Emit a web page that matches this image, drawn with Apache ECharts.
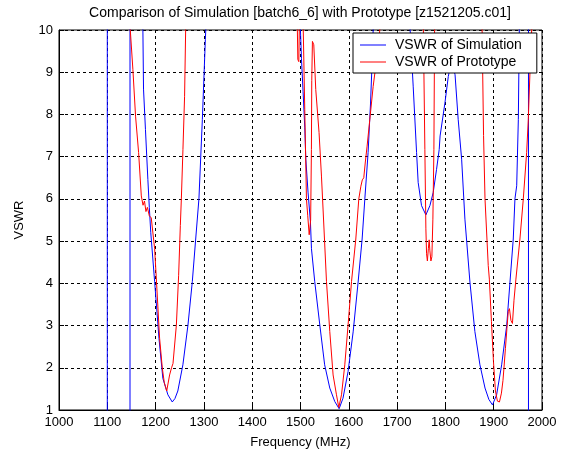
<!DOCTYPE html>
<html>
<head>
<meta charset="utf-8">
<script src="https://cdn.jsdelivr.net/npm/echarts@6/dist/echarts.min.js"></script>
<style>
  html, body { margin: 0; padding: 0; background: #fff; }
  #chart { width: 564px; height: 454px; }
</style>
</head>
<body>
<div id="chart"></div>
<script>
// simulation (blue), null = break in the line, values > 10 run off the top
let simFreq = [1100, 1100, 1147, 1147, 1160,
  1172, 1173.7, 1175, 1179, 1184, 1187, 1190, 1198, 1207, 1215, 1225.5, 1234.5, 1240, 1246, 1256.5, 1267, 1276, 1283, 1289.7, 1296.8, 1303, 1305, 1310,
  1497, 1499.9, 1502, 1505.3, 1508.8, 1511, 1515.6, 1520.6, 1522.7, 1529.5, 1540, 1550, 1560.6, 1571, 1580, 1588, 1598.5, 1609, 1619.3, 1627.6, 1633.2, 1640, 1645, 1649, 1650.4, 1652,
  1724, 1727, 1733.3, 1740.3, 1743.6, 1750.6, 1759.6, 1767.9, 1774.7, 1781.7, 1787.2, 1789, 1799, 1806, 1813, 1820, 1826.5, 1833.6, 1840.4, 1850.8, 1861, 1871.5, 1882, 1890, 1897.5, 1906, 1916.5, 1927, 1933.7, 1940.5, 1944, 1947.6, 1951, 1953, 1955,
  1972, 1972]
let simVswr = [0, 11, 11, 0, null,
  11, 10, 8.6, 7.64, 6.46, 5.8, 5.2, 4.04, 2.7, 1.75, 1.36, 1.19, 1.27, 1.45, 2.07, 3.01, 4.04, 5.05, 6.0, 7.88, 9.77, 10.3, 11,
  11, 10, 9.33, 8.55, 7.7, 6.94, 6.16, 5.45, 4.82, 4.04, 3.01, 2.07, 1.52, 1.2, 1.03, 1.28, 1.91, 2.85, 4.03, 5.05, 6.0, 7.1, 8.27, 9.45, 10, 11,
  11, 10, 8.67, 7.1, 6.39, 5.84, 5.62, 5.84, 6.15, 6.7, 7.17, 7.49, 8.27, 8.9, 9.3, 8.94, 7.88, 6.94, 5.52, 4.03, 2.86, 2.07, 1.52, 1.25, 1.12, 1.36, 2.07, 3.01, 4.03, 5.05, 6.0, 6.31, 7.88, 10, 11,
  11, 0]

// prototype (red)
let protoFreq = [1000, 1146, 1147.6, 1153, 1158.5, 1164.8, 1170.4, 1174, 1177, 1180, 1183, 1187, 1191, 1198, 1202.7, 1208.3, 1213.9, 1218, 1223, 1229, 1233, 1236, 1243, 1247.7, 1251.2, 1253.3, 1256.6, 1260, 1262.2, 1264,
  1492, 1493.5, 1494.5, 1496.5, 1497.5, 1499,
  1504, 1505.7, 1508.8, 1512.3, 1515, 1518, 1521, 1522.6, 1523.3, 1524.7, 1527.5, 1531.6, 1538.4, 1543.4, 1546.7, 1553.8, 1560.6, 1567.5, 1574.5, 1579.3, 1584.9, 1591.7, 1598.5, 1605.6, 1614.5, 1620.7, 1625, 1628, 1631, 1634, 1637.9, 1643.5, 1650.4, 1657.4, 1664.2, 1666,
  1753, 1754.4, 1757.5, 1759.6, 1761, 1762.7, 1764.7, 1766.4, 1767.9, 1770, 1772, 1774.1, 1776.2, 1777.6, 1779,
  1873, 1876, 1879, 1882, 1888.7, 1891, 1895.3, 1899.5, 1903.6, 1907.7, 1911.9, 1916, 1919.2, 1921.2, 1924.3, 1927.4, 1930.1, 1932.6, 1935.7, 1938.8, 1942, 1946, 1954.3, 1961.3, 1968.2, 1971.6, 1976.5, 1978.6, 1980, 2000]
let protoVswr = [11, 11, 10, 9.06, 7.96, 7.1, 6.07, 5.85, 5.95, 5.7, 5.8, 5.6, 5.55, 4.82, 3.87, 2.7, 1.99, 1.65, 1.45, 1.83, 2.0, 2.1, 3.01, 4.19, 5.37, 6.0, 7.17, 8.43, 10, 11,
  11, 10, 9.3, 9.25, 10, 11,
  11, 10, 8.12, 6.0, 5.6, 5.15, 5.5, 7.17, 8.8, 9.73, 9.65, 8.59, 7.57, 6.54, 5.76, 4.04, 2.86, 1.83, 1.36, 1.06, 1.36, 2.07, 3.01, 4.04, 5.05, 6.0, 6.3, 6.45, 6.5, 6.85, 7.25, 7.88, 8.66, 9.29, 10, 11,
  11, 10, 7.17, 5.29, 4.7, 4.53, 4.82, 5.03, 4.77, 4.53, 4.63, 5.52, 7.17, 10, 11,
  11, 10, 7.5, 6.0, 4.42, 4.1, 3.1, 2.15, 1.45, 1.21, 1.19, 1.4, 1.7, 1.99, 2.46, 2.93, 3.33, 3.4, 3.12, 3.05, 3.6, 4.1, 5.05, 6.0, 7.1, 7.88, 9.45, 10, 11, 11]

let font = 'Liberation Sans, Arial, sans-serif'

function pairs(xs, ys) {
  return xs.map((x, i) => [x, ys[i]])
}

let myChart = echarts.init(document.getElementById('chart'))
myChart.setOption({
  animation: false,
  backgroundColor: '#fff',
  title: {
    text: 'Comparison of Simulation [batch6_6] with Prototype [z1521205.c01]',
    left: 300,
    top: 6,
    padding: 0,
    textAlign: 'center',
    textStyle: { fontSize: 14, fontWeight: 'normal', color: '#000', fontFamily: font }
  },
  legend: {
    data: ['VSWR of Simulation', 'VSWR of Prototype'],
    orient: 'vertical',
    left: 353,
    top: 33,
    // plain line sample, no marker
    icon: 'path://M0,0H26V1H0Z',
    itemWidth: 26,
    itemHeight: 14,
    itemGap: 3,
    padding: [5, 15, 4, 7],
    borderColor: '#000',
    borderWidth: 1,
    backgroundColor: '#fff',
    textStyle: { fontSize: 14, color: '#000', fontFamily: font, padding: [0, 0, 0, 4] }
  },
  grid: {
    left: 59,
    right: 22,
    top: 30,
    bottom: 42,
    show: true,
    borderColor: '#000',
    borderWidth: 1
  },
  xAxis: {
    type: 'value',
    min: 1000,
    max: 2000,
    interval: 100,
    name: 'Frequency (MHz)',
    nameLocation: 'middle',
    nameGap: 26,
    nameTextStyle: { fontSize: 13, color: '#000', fontFamily: font },
    axisLine: { lineStyle: { color: '#000' } },
    axisTick: { inside: true, length: 5, lineStyle: { color: '#000' } },
    axisLabel: { fontSize: 13, color: '#000', margin: 6, fontFamily: font, formatter: v => String(v) },
    splitLine: { show: true, lineStyle: { color: '#000', type: [3, 3], width: 1 } }
  },
  yAxis: {
    type: 'value',
    min: 1,
    max: 10,
    interval: 1,
    name: 'VSWR',
    nameLocation: 'middle',
    nameGap: 33,
    nameTextStyle: { fontSize: 13, color: '#000', fontFamily: font },
    axisLine: { show: true, lineStyle: { color: '#000' } },
    axisTick: { show: true, inside: true, length: 5, lineStyle: { color: '#000' } },
    axisLabel: { fontSize: 13, color: '#000', margin: 6, fontFamily: font },
    splitLine: { show: true, lineStyle: { color: '#000', type: [3, 3], width: 1 } }
  },
  series: [
    {
      name: 'VSWR of Simulation',
      type: 'line',
      symbol: 'none',
      color: '#0000ff',
      lineStyle: { width: 1, color: '#0000ff' },
      data: pairs(simFreq, simVswr)
    },
    {
      name: 'VSWR of Prototype',
      type: 'line',
      symbol: 'none',
      color: '#ff0000',
      lineStyle: { width: 1, color: '#ff0000' },
      data: pairs(protoFreq, protoVswr)
    }
  ]
})
</script>
</body>
</html>
